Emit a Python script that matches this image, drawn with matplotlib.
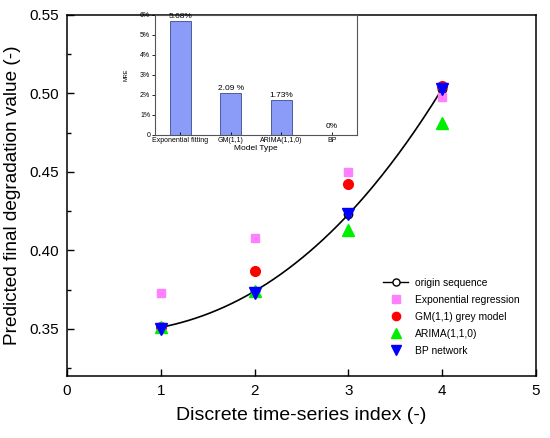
import numpy as np
import matplotlib
matplotlib.use("Agg")
import matplotlib.pyplot as plt
from matplotlib.ticker import MultipleLocator, FuncFormatter

plt.rcParams['font.family'] = ['Liberation Sans', 'DejaVu Sans']

# ---- data ----
x_idx = [1, 2, 3, 4]
origin_seq = [0.351, 0.374, 0.423, 0.503]
exp_reg = [0.373, 0.408, 0.450, 0.498]
gm11 = [0.351, 0.387, 0.442, 0.505]
arima = [0.351, 0.374, 0.413, 0.481]
bp_net = [0.350, 0.373, 0.423, 0.503]

model_types = ['Exponential fitting', 'GM(1,1)', 'ARIMA(1,1,0)', 'BP']
mre_values = [0.0568, 0.0209, 0.0173, 0.0]
mre_labels = ['5.68%', '2.09 %', '1.73%', '0%']

fig = plt.figure(figsize=(5.5, 4.38), dpi=100)
ax = fig.add_axes([0.1218, 0.1416, 0.8527, 0.8242])

# smooth curve through the origin sequence (exact cubic through the 4 points)
coef = np.polyfit(x_idx, origin_seq, 3)
xs = np.linspace(x_idx[0], x_idx[-1], 200)
ax.plot(xs, np.polyval(coef, xs), color='black', lw=1.2, zorder=2)
ax.plot(x_idx, origin_seq, 'o', mfc='white', mec='black', ms=6, zorder=1)
line_handle = plt.Line2D([], [], color='black', lw=1.0, marker='o', mfc='white',
                         mec='black', ms=6)

h1, = ax.plot(x_idx, exp_reg, 's', color='#ff80ff', ms=6, ls='none', zorder=3)
h2, = ax.plot(x_idx, gm11, 'o', color='#ff0000', ms=7, ls='none', zorder=3)
h3, = ax.plot(x_idx, arima, '^', color='#00ee00', ms=8, ls='none', zorder=3)
h4, = ax.plot(x_idx, bp_net, 'v', color='#0000ff', ms=8, ls='none', zorder=4)

ax.set_xlim(0, 5)
ax.set_ylim(0.32, 0.55)
ax.xaxis.set_major_locator(MultipleLocator(1))
ax.yaxis.set_major_locator(MultipleLocator(0.05))
ax.yaxis.set_minor_locator(MultipleLocator(0.025))
ax.yaxis.set_major_formatter(FuncFormatter(lambda v, p: f'{v:.2f}'))
ax.tick_params(direction='in', labelsize=11, length=5, width=1, pad=6)
ax.tick_params(which='minor', direction='in', length=3, width=1)
for s in ax.spines.values():
    s.set_linewidth(1.1)
ax.set_xlabel('Discrete time-series index (-)', fontsize=14, labelpad=6)
ax.set_ylabel('Predicted final degradation value (-)', fontsize=13.7, labelpad=6)

leg = ax.legend([line_handle, h1, h2, h3, h4],
                ['origin sequence', 'Exponential regression', 'GM(1,1) grey model',
                 'ARIMA(1,1,0)', 'BP network'],
                loc='lower right', bbox_to_anchor=(0.985, 0.03), frameon=False,
                fontsize=7.4, handlelength=2.4, labelspacing=0.68, handletextpad=0.7,
                markerscale=0.85)

# ---- inset ----
ins = fig.add_axes([0.2818, 0.6918, 0.3673, 0.274])
pos = np.arange(1, len(model_types) + 1)
ins.bar(pos, mre_values, width=0.41, color='#8a9cf7', edgecolor='#3c4a8c', lw=0.6)
for p, v, lab in zip(pos, mre_values, mre_labels):
    ins.text(p, v + 0.0008 + (0.0015 if v == 0 else 0), lab, ha='center', va='bottom',
             fontsize=6)
ins.set_xlim(0.5, 4.5)
ins.set_ylim(0, 0.06)
ins.set_xticks(pos)
ins.set_xticklabels(model_types)
ins.yaxis.set_major_locator(MultipleLocator(0.01))
ins.yaxis.set_major_formatter(FuncFormatter(lambda v, p: '0' if abs(v) < 1e-9 else f'{v*100:.0f}%'))
ins.tick_params(labelsize=5, length=2, width=0.6, pad=1.5)
ins.tick_params(axis='x', direction='in')
ins.set_xlabel('Model Type', fontsize=6, labelpad=1)
ins.set_ylabel('MRE', fontsize=4, labelpad=8)
for s in ins.spines.values():
    s.set_linewidth(0.8)
    s.set_color('#555555')

fig.savefig('out.png', dpi=100)
